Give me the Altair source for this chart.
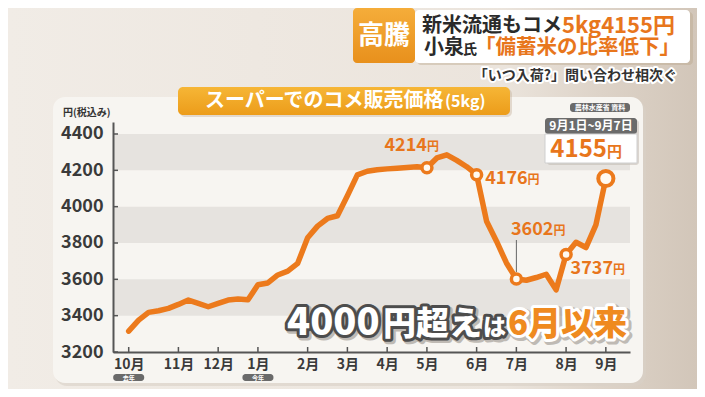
import json
import altair as alt
import pandas as pd

FONT = "Noto Sans CJK JP"
ORANGE = "#ec7a1c"
TXT_ORANGE = "#e8761c"
DARK = "#3a3a3a"

# ---------------- data ----------------
weeks = list(range(49))
prices = [3315, 3375, 3418, 3427, 3440, 3462, 3486, 3468, 3449, 3468, 3486, 3492, 3488,
          3570, 3580, 3624, 3645, 3688, 3829, 3893, 3935, 3950, 4060, 4175, 4195,
          4203, 4208, 4212, 4216, 4220, 4214, 4268, 4285, 4255, 4220,
          4176, 3920, 3810, 3690, 3602, 3595, 3610, 3628, 3542, 3737, 3804, 3775, 3900, 4155]
month_weeks = [0, 5, 9, 13, 18, 22, 26, 30, 35, 39, 44, 48]
month_labels = ["10月", "11月", "12月", "1月", "2月", "3月", "4月", "5月", "6月", "7月", "8月", "9月"]
y_ticks = [3200, 3400, 3600, 3800, 4000, 4200, 4400]
band_lo = [3400, 3800, 4200]
band_hi = [3600, 4000, 4400]
hl_weeks = [30, 35, 39, 44]
hl_prices = [4214, 4176, 3602, 3737]
hl_texts = ["4214", "4176", "3602", "3737"]
last_week = [48]
last_price = [4155]
year_pill_weeks = [0, 13]
year_pill_texts = ["去年", "今年"]

# ---------------- layout ----------------
W, H = 517, 230
PAD = {"left": 105, "top": 114, "right": 67, "bottom": 37}
XDOM = [-1.58, 50.43]
YDOM = [3200, 4466]

xs = alt.Scale(domain=XDOM, nice=False, zero=False)
ys = alt.Scale(domain=YDOM, nice=False, zero=False)

label_expr = "%s[indexof(%s, datum.value)]" % (
    json.dumps(month_labels, ensure_ascii=False), json.dumps(month_weeks))

xaxis = alt.Axis(values=month_weeks, labelExpr=label_expr, ticks=False, grid=False,
                 domainColor="#555555", domainWidth=2, labelFont=FONT, labelFontSize=14,
                 labelFontWeight="bold", labelColor=DARK, labelPadding=5, title=None,
                 labelOverlap=False, labelFlush=False, zindex=1)
yaxis = alt.Axis(values=y_ticks, format="d", ticks=False, grid=False, domainColor="#555555",
                 domainWidth=2, labelFont=FONT, labelFontSize=18, labelFontWeight="bold",
                 labelColor=DARK, labelPadding=10, title=None, zindex=1)

line_df = pd.DataFrame({"week": weeks, "price": prices})
hl_df = pd.DataFrame({"week": hl_weeks, "price": hl_prices, "txt": hl_texts})
last_df = pd.DataFrame({"week": last_week, "price": last_price})
band_df = pd.DataFrame({"lo": band_lo, "hi": band_hi})
mt_df = pd.DataFrame({"week": month_weeks})
yt_df = pd.DataFrame({"price": y_ticks})
pill_df = pd.DataFrame({"week": year_pill_weeks, "txt": year_pill_texts})
one = pd.DataFrame({"a": [0]})

X = alt.X("week:Q", scale=xs, axis=xaxis)
Y = alt.Y("price:Q", scale=ys, axis=yaxis)


def box(x1, x2, y1, y2, **kw):
    return alt.Chart(one).mark_rect(**kw).encode(
        x=alt.value(x1), x2=alt.value(x2), y=alt.value(y1), y2=alt.value(y2))


def label(text, x, y, **kw):
    kw.setdefault("font", FONT)
    kw.setdefault("fontWeight", "bold")
    return alt.Chart(one).mark_text(text=text, **kw).encode(x=alt.value(x), y=alt.value(y))


bg_grad = {"gradient": "linear", "x1": 0, "x2": 1, "y1": 0, "y2": 0,
           "stops": [{"offset": 0, "color": "#f1ece6"}, {"offset": 0.72, "color": "#ebe4dc"},
                     {"offset": 0.86, "color": "#ddd3c8"}, {"offset": 1, "color": "#d2c6b9"}]}
title_grad = {"gradient": "linear", "x1": 0, "x2": 0, "y1": 0, "y2": 1,
              "stops": [{"offset": 0, "color": "#f6b636"}, {"offset": 1, "color": "#ec9c1a"}]}
head_grad = {"gradient": "linear", "x1": 0, "x2": 0, "y1": 0, "y2": 1,
             "stops": [{"offset": 0, "color": "#f5ad3a"}, {"offset": 1, "color": "#e8901c"}]}

layers = []
# background and panel
layers.append(box(-105, 584, -114, 267, fill=bg_grad))
layers.append(box(-58, 533, -22, 264, fill="#d8d0c6", opacity=0.6, cornerRadius=12))
layers.append(box(-60, 530, -25, 261, fill="#f7f5f1", cornerRadius=12))

# bands
layers.append(alt.Chart(band_df).mark_rect(fill="#e6e3df").encode(
    x=alt.value(0), x2=alt.value(W),
    y=alt.Y("lo:Q", scale=ys, axis=yaxis), y2="hi:Q"))

# inward ticks
layers.append(alt.Chart(mt_df).mark_rule(color="#555555", strokeWidth=1.5).encode(
    x=X, y=alt.value(H - 5), y2=alt.value(H)))
layers.append(alt.Chart(yt_df).mark_rule(color="#555555", strokeWidth=1.5).encode(
    y=Y, x=alt.value(0), x2=alt.value(5)))

# year pills under x labels
layers.append(alt.Chart(pill_df).mark_rect(fill="#6a6a6a", cornerRadius=3, width=31, height=7).encode(
    x=X, y=alt.value(255.5)))
layers.append(alt.Chart(pill_df).mark_text(font=FONT, fontSize=6, color="white", fontWeight="bold",
                                           baseline="middle").encode(
    x=X, y=alt.value(255.5), text="txt:N"))

# leader line for the July point
layers.append(alt.Chart(hl_df[hl_df.week == 39]).mark_rule(color="#666666", strokeWidth=1).encode(
    x=X, y=alt.value(118), y2=alt.value(150)))

# line
layers.append(alt.Chart(line_df).mark_line(color=ORANGE, strokeWidth=5.5, strokeJoin="round",
                                           strokeCap="round").encode(x=X, y=Y))

# highlighted points
layers.append(alt.Chart(hl_df).mark_point(shape="circle", filled=True, fill="#fffaf2", stroke=ORANGE,
                                          strokeWidth=3.5, size=100, opacity=1).encode(x=X, y=Y))
layers.append(alt.Chart(last_df).mark_point(shape="circle", filled=True, fill="#fffaf2", stroke=ORANGE,
                                            strokeWidth=4, size=230, opacity=1).encode(x=X, y=Y))

# point labels (offsets are styling)
offsets = {30: (0, -17), 35: (51, 9.5), 39: (37, -44), 44: (47, 19.5)}
for wk, (dx, dy) in offsets.items():
    d = hl_df[hl_df.week == wk]
    layers.append(alt.Chart(d).mark_text(font=FONT, fontWeight="bold", fontSize=18, color=TXT_ORANGE,
                                         align="right", baseline="alphabetic", dx=dx, dy=dy).encode(
        x=X, y=Y, text="txt:N"))
    layers.append(alt.Chart(d).mark_text(font=FONT, fontWeight="bold", fontSize=12, color=TXT_ORANGE,
                                         align="left", baseline="alphabetic", dx=dx, dy=dy, text="円").encode(
        x=X, y=Y))

# unit label
layers.append(label("円(税込み)", -50, -9, fontSize=10, color="#333333", align="left", baseline="middle"))

# chart title box
layers.append(box(67, 399, -33, -5, fill="#b9a48a", opacity=0.35, cornerRadius=5))
layers.append(box(65, 397, -35, -7, fill=title_grad, cornerRadius=5))
layers.append(label("スーパーでのコメ販売価格", 92, -21, fontSize=20, color="white", align="left", baseline="middle"))
layers.append(label("(5kg)", 332, -20, fontSize=16, color="white", align="left", baseline="middle"))

# source pill
layers.append(box(457, 517, -19, -10, fill="#6a6a6a", cornerRadius=3))
layers.append(label("農林水産省 資料", 487, -14.5, fontSize=7, color="white", align="center", baseline="middle"))

# latest value callout
layers.append(box(434, 526, -2, 43, fill="#b8b0a6", opacity=0.45, cornerRadius=3))
layers.append(box(432, 524, -4, 12, fill="#6b6b6b", cornerRadius=3))
layers.append(box(432, 524, 12, 41, fill="#ffffff", stroke="#cfcfcf", strokeWidth=1))
layers.append(label("9月1日~9月7日", 478, 4, fontSize=12, color="white", align="center", baseline="middle"))
layers.append(label("4155", 494, 35, fontSize=24, color=TXT_ORANGE, align="right", baseline="alphabetic"))
layers.append(label("円", 494, 35, fontSize=15, color=TXT_ORANGE, align="left", baseline="alphabetic"))

# big caption
for txt, x, fs in [("4000", 174, 38), ("円超え", 270, 33), ("は", 370, 23)]:
    layers.append(label(txt, x + 2, 215, fontSize=fs, fontWeight=900, color="#9a948c", opacity=0.6,
                        stroke="#9a948c", strokeWidth=7, strokeJoin="round", align="left", baseline="alphabetic"))
    layers.append(label(txt, x, 213, fontSize=fs, fontWeight=900, color="#4d4d4d",
                        stroke="#4d4d4d", strokeWidth=6, strokeJoin="round", align="left", baseline="alphabetic"))
    layers.append(label(txt, x, 213, fontSize=fs, fontWeight=900, color="#ffffff", align="left",
                        baseline="alphabetic"))
layers.append(label("6月以来", 516, 215, fontSize=33, fontWeight=900, color="#9a948c", opacity=0.6,
                    stroke="#9a948c", strokeWidth=8, strokeJoin="round", align="right", baseline="alphabetic"))
layers.append(label("6月以来", 514, 213, fontSize=33, fontWeight=900, color="#ffffff",
                    stroke="#ffffff", strokeWidth=6, strokeJoin="round", align="right", baseline="alphabetic"))
layers.append(label("6月以来", 514, 213, fontSize=33, fontWeight=900, color="#ef8a1f", align="right",
                    baseline="alphabetic"))

# header
layers.append(box(304, 580, -110, -57, fill="#b9a48a", opacity=0.4, cornerRadius=4))
layers.append(box(302, 577, -112, -59, fill="#ffffff", cornerRadius=4))
layers.append(box(240, 302, -114, -59, fill=head_grad, cornerRadius=4))
layers.append(label("高騰", 271, -86, fontSize=26, color="white", align="center", baseline="middle"))
layers.append(label("新米流通もコメ", 309, -96, fontSize=20, color="#2a2a2a", align="left", baseline="middle"))
layers.append(label("5kg4155円", 449, -96, fontSize=22, color=TXT_ORANGE, align="left", baseline="middle"))
layers.append(label("小泉", 311, -74, fontSize=20, color="#2a2a2a", align="left", baseline="middle"))
layers.append(label("氏", 350, -72, fontSize=14, color="#2a2a2a", align="left", baseline="middle"))
layers.append(label("「備蓄米の比率低下」", 362, -74, fontSize=20.5, color=TXT_ORANGE, align="left",
                    baseline="middle"))
layers.append(label("「いつ入荷?」問い合わせ相次ぐ", 564, -46, fontSize=14, color="#ffffff", stroke="#ffffff",
                    strokeWidth=4, strokeJoin="round", align="right", baseline="middle"))
layers.append(label("「いつ入荷?」問い合わせ相次ぐ", 564, -46, fontSize=14, color="#333333",
                    align="right", baseline="middle"))

chart = alt.layer(*layers).properties(
    width=W, height=H,
    autosize=alt.AutoSizeParams(type="none"),
    padding=PAD,
    background="#efe9e3",
).configure_view(stroke=None)

chart.save("out.html", embed_options={"renderer": "svg", "actions": False})
